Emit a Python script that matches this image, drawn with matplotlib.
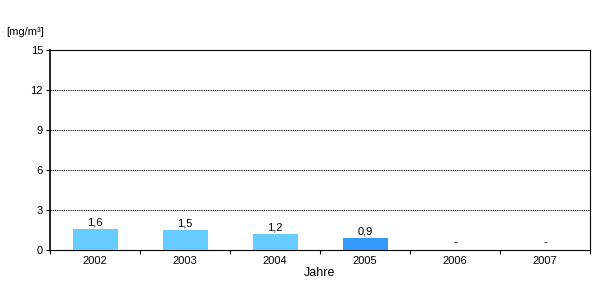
import matplotlib
matplotlib.use('Agg')
import matplotlib.pyplot as plt
import numpy as np

years = ['2002', '2003', '2004', '2005', '2006', '2007']
values = [1.6, 1.5, 1.2, 0.9, None, None]
bar_colors = ['#66CCFF', '#66CCFF', '#66CCFF', '#3399FF', '#66CCFF', '#66CCFF']
yticks = [0, 3, 6, 9, 12, 15]

plt.rcParams['font.family'] = ['Liberation Sans', 'DejaVu Sans']

fig = plt.figure(figsize=(6, 3), dpi=100)
ax = fig.add_axes([50 / 600, 50 / 300, 540 / 600, 200 / 300])

x = np.arange(len(years))
heights = [v if v is not None else 0 for v in values]
ax.bar(x, heights, width=0.5, color=bar_colors, zorder=3)

for xi, v in zip(x, values):
    if v is None:
        ax.text(xi, 0.25, '-', ha='center', va='bottom', fontsize=8)
    else:
        ax.text(xi, v + 0.1, f'{v:.1f}'.replace('.', ','), ha='center', va='bottom', fontsize=8)

ax.set_xlim(-0.5, len(years) - 0.5)
ax.set_ylim(0, 15)
ax.set_yticks(yticks)
ax.set_yticklabels([str(t) for t in yticks], fontsize=8)
for t in yticks[1:-1]:
    ax.axhline(t, color='black', linestyle=(0, (1, 1)), linewidth=0.8, zorder=1)

ax.set_xticks(x)
ax.set_xticklabels(years, fontsize=8)
ax.tick_params(axis='x', length=0, pad=4)
ax.set_xticks(np.arange(len(years) + 1) - 0.5, minor=True)
ax.tick_params(axis='x', which='minor', length=3, width=0.8, direction='out')
ax.tick_params(axis='y', length=3, width=0.8, direction='out', pad=2)

ax.spines['left'].set_linewidth(1.2)
for s in ['top', 'right', 'bottom']:
    ax.spines[s].set_linestyle((0, (4, 1, 1, 1)))
    ax.spines[s].set_linewidth(0.8)

ax.set_xlabel('Jahre', fontsize=9, labelpad=1)
fig.text(6 / 600, 1 - 32 / 300, '[mg/m³]', fontsize=8, ha='left', va='center')

fig.savefig('out.png', dpi=100)
